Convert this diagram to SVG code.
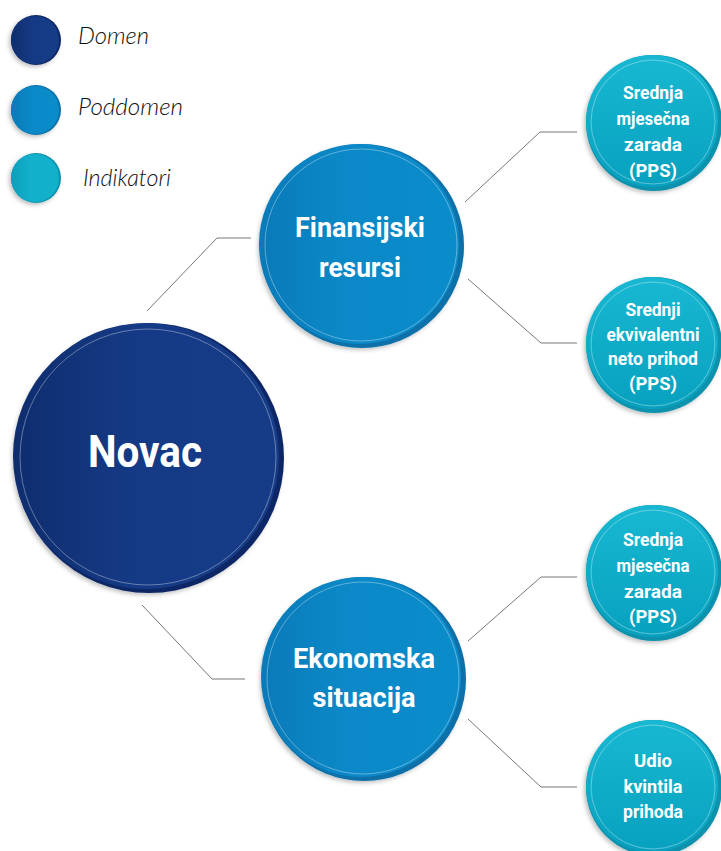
<svg xmlns="http://www.w3.org/2000/svg" width="721" height="851" viewBox="0 0 721 851">
<defs>
<linearGradient id="gDom" x1="0" y1="0" x2="1" y2="0"><stop offset="0" stop-color="#0f2d6e"/><stop offset="0.45" stop-color="#153a85"/><stop offset="1" stop-color="#163c88"/></linearGradient>
<linearGradient id="gSub" x1="0" y1="0" x2="1" y2="0"><stop offset="0" stop-color="#0a7ab9"/><stop offset="0.4" stop-color="#0b88c7"/><stop offset="1" stop-color="#0a8ccb"/></linearGradient>
<linearGradient id="gInd" x1="0" y1="0" x2="0" y2="1"><stop offset="0" stop-color="#18b8d2"/><stop offset="1" stop-color="#07a1bf"/></linearGradient>
<linearGradient id="gIndL" x1="0" y1="0" x2="1" y2="0"><stop offset="0" stop-color="#0d9fbb"/><stop offset="0.4" stop-color="#12b0cb"/><stop offset="1" stop-color="#12b0cb"/></linearGradient>
<filter id="sh" x="-20%" y="-20%" width="140%" height="140%"><feDropShadow dx="-2" dy="2" stdDeviation="2" flood-color="#000" flood-opacity="0.25"/></filter>
</defs>
<style>
.con{fill:none;stroke:#777;stroke-width:1}
.inner{fill:none;stroke:#ffffff;stroke-opacity:0.35;stroke-width:1}
.lbl{font-family:Roboto,"Liberation Sans",sans-serif;font-weight:bold;fill:#fff;text-anchor:middle}
.leg{font-family:Lato,"Open Sans","Liberation Sans",sans-serif;font-style:italic;font-weight:300;font-size:23px;fill:#111}
.rimD{fill:#0b2865}.rimS{fill:#0870a9}.rimI{fill:#0d92ad}
</style>
<g id="legend">
<g id="leg-domen"><circle cx="36" cy="40" r="25" class="rimD" filter="url(#sh)"/><circle cx="35" cy="40" r="24" fill="url(#gDom)"/><text x="78" y="44" class="leg" textLength="71" lengthAdjust="spacingAndGlyphs">Domen</text></g>
<g id="leg-poddomen"><circle cx="36" cy="110" r="25" class="rimS" filter="url(#sh)"/><circle cx="35" cy="110" r="24" fill="url(#gSub)"/><text x="78" y="115" class="leg" textLength="105" lengthAdjust="spacingAndGlyphs">Poddomen</text></g>
<g id="leg-indikatori"><circle cx="36" cy="178" r="25" class="rimI" filter="url(#sh)"/><circle cx="35" cy="178" r="24" fill="url(#gIndL)"/><text x="83" y="186" class="leg" textLength="88" lengthAdjust="spacingAndGlyphs">Indikatori</text></g>
</g>
<g id="connectors">
<polyline class="con" points="147,311 217,238 251,238"/>
<polyline class="con" points="142,605 212,679 245,679"/>
<polyline class="con" points="465,202 540,132 577,132"/>
<polyline class="con" points="468,279 541,343 577,343"/>
<polyline class="con" points="468,641 541,577 577,577"/>
<polyline class="con" points="468,719 541,787 577,787"/>
</g>
<g id="novac">
<circle cx="149" cy="458" r="135" class="rimD" filter="url(#sh)"/>
<circle cx="146" cy="456" r="133" fill="url(#gDom)"/>
<circle cx="148" cy="457" r="128" class="inner"/>
<text x="145" y="467" class="lbl" font-size="45" textLength="114" lengthAdjust="spacingAndGlyphs">Novac</text>
</g>
<g id="finansijski">
<circle cx="362" cy="246" r="102" class="rimS" filter="url(#sh)"/>
<circle cx="359" cy="244" r="100" fill="url(#gSub)"/>
<circle cx="361" cy="245" r="96" class="inner"/>
<text x="360" y="237" class="lbl" font-size="28" textLength="130" lengthAdjust="spacingAndGlyphs">Finansijski</text>
<text x="360" y="277" class="lbl" font-size="28" textLength="82" lengthAdjust="spacingAndGlyphs">resursi</text>
</g>
<g id="ekonomska">
<circle cx="364" cy="679" r="102" class="rimS" filter="url(#sh)"/>
<circle cx="361" cy="677" r="100" fill="url(#gSub)"/>
<circle cx="363" cy="678" r="96" class="inner"/>
<text x="364" y="668" class="lbl" font-size="28" textLength="142" lengthAdjust="spacingAndGlyphs">Ekonomska</text>
<text x="364" y="707" class="lbl" font-size="28" textLength="103" lengthAdjust="spacingAndGlyphs">situacija</text>
</g>
<g id="ind1">
<circle cx="654" cy="123" r="68" class="rimI" filter="url(#sh)"/>
<circle cx="652" cy="121" r="66" fill="url(#gInd)"/>
<circle cx="653" cy="122" r="62" class="inner"/>
<text x="653" y="99" class="lbl" font-size="19" textLength="60" lengthAdjust="spacingAndGlyphs">Srednja</text>
<text x="653" y="125" class="lbl" font-size="19" textLength="73" lengthAdjust="spacingAndGlyphs">mjesečna</text>
<text x="653" y="151" class="lbl" font-size="19" textLength="58" lengthAdjust="spacingAndGlyphs">zarada</text>
<text x="653" y="177" class="lbl" font-size="19" textLength="48" lengthAdjust="spacingAndGlyphs">(PPS)</text>
</g>
<g id="ind2">
<circle cx="654" cy="345" r="68" class="rimI" filter="url(#sh)"/>
<circle cx="652" cy="343" r="66" fill="url(#gInd)"/>
<circle cx="653" cy="344" r="62" class="inner"/>
<text x="653" y="316" class="lbl" font-size="19" textLength="55" lengthAdjust="spacingAndGlyphs">Srednji</text>
<text x="653" y="341" class="lbl" font-size="19" textLength="93" lengthAdjust="spacingAndGlyphs">ekvivalentni</text>
<text x="653" y="365" class="lbl" font-size="19" textLength="90" lengthAdjust="spacingAndGlyphs">neto prihod</text>
<text x="653" y="390" class="lbl" font-size="19" textLength="48" lengthAdjust="spacingAndGlyphs">(PPS)</text>
</g>
<g id="ind3">
<circle cx="654" cy="573" r="68" class="rimI" filter="url(#sh)"/>
<circle cx="652" cy="571" r="66" fill="url(#gInd)"/>
<circle cx="653" cy="572" r="62" class="inner"/>
<text x="653" y="546" class="lbl" font-size="19" textLength="60" lengthAdjust="spacingAndGlyphs">Srednja</text>
<text x="653" y="572" class="lbl" font-size="19" textLength="73" lengthAdjust="spacingAndGlyphs">mjesečna</text>
<text x="653" y="598" class="lbl" font-size="19" textLength="58" lengthAdjust="spacingAndGlyphs">zarada</text>
<text x="653" y="623" class="lbl" font-size="19" textLength="48" lengthAdjust="spacingAndGlyphs">(PPS)</text>
</g>
<g id="ind4">
<circle cx="654" cy="788" r="68" class="rimI" filter="url(#sh)"/>
<circle cx="652" cy="786" r="66" fill="url(#gInd)"/>
<circle cx="653" cy="787" r="62" class="inner"/>
<text x="653" y="767" class="lbl" font-size="19" textLength="38" lengthAdjust="spacingAndGlyphs">Udio</text>
<text x="653" y="793" class="lbl" font-size="19" textLength="59" lengthAdjust="spacingAndGlyphs">kvintila</text>
<text x="653" y="818" class="lbl" font-size="19" textLength="60" lengthAdjust="spacingAndGlyphs">prihoda</text>
</g>
</svg>
